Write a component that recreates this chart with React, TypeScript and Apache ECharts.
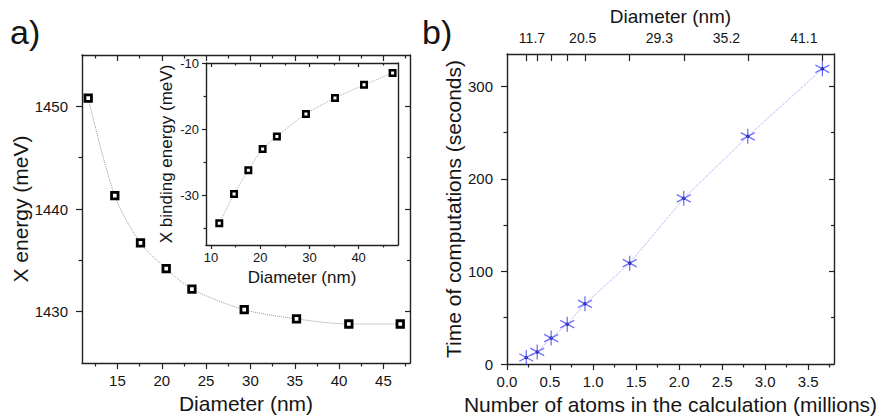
import React, { useEffect, useRef } from "react";
import * as echarts from "echarts";

// ---------- data ----------
const diameters = [11.7, 14.7, 17.6, 20.5, 23.4, 29.3, 35.2, 41.1, 46.9];
const xEnergy = [1450.8, 1441.3, 1436.7, 1434.2, 1432.2, 1430.2, 1429.3, 1428.8, 1428.8];
const bindingEnergy = [-34.2, -29.8, -26.2, -23.0, -21.1, -17.7, -15.3, -13.3, -11.5];
const atomsMillions = [0.224, 0.351, 0.513, 0.70, 0.906, 1.426, 2.054, 2.798, 3.665];
const computeSeconds = [7, 13, 28, 43, 65, 109, 179, 246, 319];

// tick values / labels
const mainXMajor = [15, 20, 25, 30, 35, 40, 45];
const mainXMinor = [12.5, 17.5, 22.5, 27.5, 32.5, 37.5, 42.5, 47.5];
const mainYMajor = [1430, 1440, 1450];
const mainYMinor = [1435, 1445];
const insetXMajor = [10, 20, 30, 40];
const insetXMinor = [15, 25, 35, 45];
const insetYMajor = [-30, -20, -10];
const insetYMinor = [-35, -25, -15];
const rightXMajor = [0, 0.5, 1, 1.5, 2, 2.5, 3, 3.5];
const rightXMinor = [0.25, 0.75, 1.25, 1.75, 2.25, 2.75, 3.25, 3.75];
const rightYMajor = [0, 100, 200, 300];
const rightYMinor = [50, 150, 250];
const topLabelPos = [0.29, 0.88, 1.77, 2.55, 3.45];
const topLabelText = ["11.7", "20.5", "29.3", "35.2", "41.1"];

const FONT = '"Liberation Sans", Arial, Helvetica, sans-serif';
const AX = "#222";
const TXT = "#151515";

type AxOpt = {
  grid: number;
  pos: string;
  min: number;
  max: number;
  ticks?: number[];
  len?: number;
  inside?: boolean;
  line?: boolean;
  labels?: number[];
  fmt?: (v: number) => string;
  fontSize?: number;
  margin?: number;
  name?: string;
  nameGap?: number;
  nameSize?: number;
};

function mkAxis(o: AxOpt) {
  const ax: any = {
    gridIndex: o.grid,
    type: "value",
    position: o.pos,
    min: o.min,
    max: o.max,
    splitLine: { show: false },
    axisLine: { show: !!o.line, onZero: false, lineStyle: { color: AX, width: 1.4 } },
    axisTick: o.ticks
      ? {
          show: true,
          inside: !!o.inside,
          length: o.len ?? 5,
          customValues: o.ticks,
          lineStyle: { color: AX, width: 1.2 },
        }
      : { show: false },
    axisLabel: o.labels
      ? {
          show: true,
          customValues: o.labels,
          formatter: o.fmt ?? ((v: number) => String(v)),
          fontSize: o.fontSize ?? 15,
          margin: o.margin ?? 10,
          color: TXT,
          fontFamily: FONT,
        }
      : { show: false },
  };
  if (o.name) {
    ax.name = o.name;
    ax.nameLocation = "middle";
    ax.nameGap = o.nameGap;
    ax.nameTextStyle = { fontSize: o.nameSize ?? 21, color: TXT, fontFamily: FONT, fontWeight: "normal" };
  }
  return ax;
}

export default function App() {
  const ref = useRef<HTMLDivElement>(null);
  useEffect(() => {
    if (!ref.current) return;
    const chart = echarts.init(ref.current, null, { renderer: "svg" });

    const xAxes: any[] = [];
    const yAxes: any[] = [];
    const addX = (o: AxOpt) => (xAxes.push(mkAxis(o)), xAxes.length - 1);
    const addY = (o: AxOpt) => (yAxes.push(mkAxis(o)), yAxes.length - 1);

    // main panel (grid 0)
    const mX = addX({ grid: 0, pos: "bottom", min: 11, max: 48, line: true, ticks: mainXMajor, len: 6, labels: mainXMajor, margin: 10, name: "Diameter (nm)", nameGap: 29 });
    addX({ grid: 0, pos: "bottom", min: 11, max: 48, ticks: mainXMinor, len: 3.5 });
    addX({ grid: 0, pos: "top", min: 11, max: 48, line: true, ticks: mainXMajor, len: 6, inside: true });
    addX({ grid: 0, pos: "top", min: 11, max: 48, ticks: mainXMinor, len: 3.5, inside: true });
    const mY = addY({ grid: 0, pos: "left", min: 1425, max: 1455, line: true, ticks: mainYMajor, len: 6, labels: mainYMajor, margin: 14, name: "X energy (meV)", nameGap: 48 });
    addY({ grid: 0, pos: "left", min: 1425, max: 1455, ticks: mainYMinor, len: 3.5 });
    addY({ grid: 0, pos: "right", min: 1425, max: 1455, line: true, ticks: mainYMajor, len: 5, inside: true });
    addY({ grid: 0, pos: "right", min: 1425, max: 1455, ticks: mainYMinor, len: 3, inside: true });

    // inset (grid 1)
    const iX = addX({ grid: 1, pos: "bottom", min: 9, max: 48, line: true, ticks: insetXMajor, len: 4, labels: insetXMajor, fontSize: 13, margin: 6, name: "Diameter (nm)", nameGap: 24, nameSize: 17 });
    addX({ grid: 1, pos: "bottom", min: 9, max: 48, ticks: insetXMinor, len: 2.5 });
    addX({ grid: 1, pos: "top", min: 9, max: 48, line: true, ticks: insetXMajor, len: 4, inside: true });
    addX({ grid: 1, pos: "top", min: 9, max: 48, ticks: insetXMinor, len: 2.5, inside: true });
    const iY = addY({ grid: 1, pos: "left", min: -37.5, max: -10, line: true, ticks: insetYMajor, len: 4, labels: insetYMajor, fontSize: 13, margin: 7, name: "X binding energy (meV)", nameGap: 31, nameSize: 17 });
    addY({ grid: 1, pos: "left", min: -37.5, max: -10, ticks: insetYMinor, len: 2.5 });
    addY({ grid: 1, pos: "right", min: -37.5, max: -10, line: true });

    // right panel (grid 2)
    const rX = addX({ grid: 2, pos: "bottom", min: 0, max: 3.8, line: true, ticks: rightXMajor, len: 6, labels: rightXMajor, fmt: (v) => v.toFixed(1), margin: 10, name: "Number of atoms in the calculation (millions)", nameGap: 29 });
    addX({ grid: 2, pos: "bottom", min: 0, max: 3.8, ticks: rightXMinor, len: 3.5 });
    addX({
      grid: 2, pos: "top", min: 0, max: 3.8, line: true, ticks: atomsMillions, len: 7, inside: true,
      labels: topLabelPos, fmt: (v) => topLabelText[topLabelPos.indexOf(v)] ?? "", fontSize: 14, margin: 9,
      name: "Diameter (nm)", nameGap: 23, nameSize: 19,
    });
    const rY = addY({ grid: 2, pos: "left", min: 0, max: 335, line: true, ticks: rightYMajor, len: 6, labels: rightYMajor, margin: 14, name: "Time of computations (seconds)", nameGap: 42 });
    addY({ grid: 2, pos: "left", min: 0, max: 335, ticks: rightYMinor, len: 3.5 });
    addY({ grid: 2, pos: "right", min: 0, max: 335, line: true, ticks: rightYMajor, len: 5, inside: true });
    addY({ grid: 2, pos: "right", min: 0, max: 335, ticks: rightYMinor, len: 3, inside: true });

    const asterisk = "path://M6,0L6,12M0.8,3L11.2,9M0.8,9L11.2,3";

    chart.setOption({
      animation: false,
      backgroundColor: "#ffffff",
      textStyle: { fontFamily: FONT },
      grid: [
        { left: 82, top: 55, width: 328, height: 308, outerBoundsMode: "none" },
        { left: 206, top: 63, width: 192, height: 182, outerBoundsMode: "none" },
        { left: 507, top: 54, width: 327, height: 310, outerBoundsMode: "none" },
      ],
      xAxis: xAxes,
      yAxis: yAxes,
      graphic: [
        { type: "text", left: 10, top: 15, style: { text: "a)", fontSize: 34, fill: TXT, fontFamily: FONT } },
        { type: "text", left: 422, top: 15, style: { text: "b)", fontSize: 34, fill: TXT, fontFamily: FONT } },
      ],
      series: [
        {
          type: "line",
          xAxisIndex: mX,
          yAxisIndex: mY,
          data: diameters.map((d, i) => [d, xEnergy[i]]),
          smooth: 0.3,
          symbol: "rect",
          symbolSize: 6.5,
          showSymbol: true,
          itemStyle: { color: "#ffffff", borderColor: "#000", borderWidth: 2.8 },
          lineStyle: { type: "dotted", color: "#9a9a9a", width: 1 },
        },
        {
          type: "line",
          xAxisIndex: iX,
          yAxisIndex: iY,
          data: diameters.map((d, i) => [d, bindingEnergy[i]]),
          smooth: 0.3,
          symbol: "rect",
          symbolSize: 5.5,
          showSymbol: true,
          itemStyle: { color: "#ffffff", borderColor: "#000", borderWidth: 2.5 },
          lineStyle: { type: "dotted", color: "#a8a8a8", width: 1 },
        },
        {
          type: "line",
          xAxisIndex: rX,
          yAxisIndex: rY,
          data: atomsMillions.map((a, i) => [a, computeSeconds[i]]),
          symbol: "none",
          lineStyle: { type: "dotted", color: "#9c9cff", width: 1 },
        },
        {
          type: "scatter",
          xAxisIndex: rX,
          yAxisIndex: rY,
          data: atomsMillions.map((a, i) => [a, computeSeconds[i]]),
          symbol: asterisk,
          symbolSize: [14, 15],
          itemStyle: { color: "#4a4aff", borderColor: "#4a4aff", borderWidth: 1.3 },
        },
        {
          type: "scatter",
          xAxisIndex: rX,
          yAxisIndex: rY,
          data: atomsMillions.map((a, i) => [a, computeSeconds[i]]),
          symbol: "circle",
          symbolSize: 3.5,
          itemStyle: { color: "#10109a" },
        },
      ],
    });
    return () => chart.dispose();
  }, []);
  return (
    <div
      ref={ref}
      style={{ position: "absolute", left: 0, top: 0, width: 883, height: 418, background: "#fff" }}
    />
  );
}
